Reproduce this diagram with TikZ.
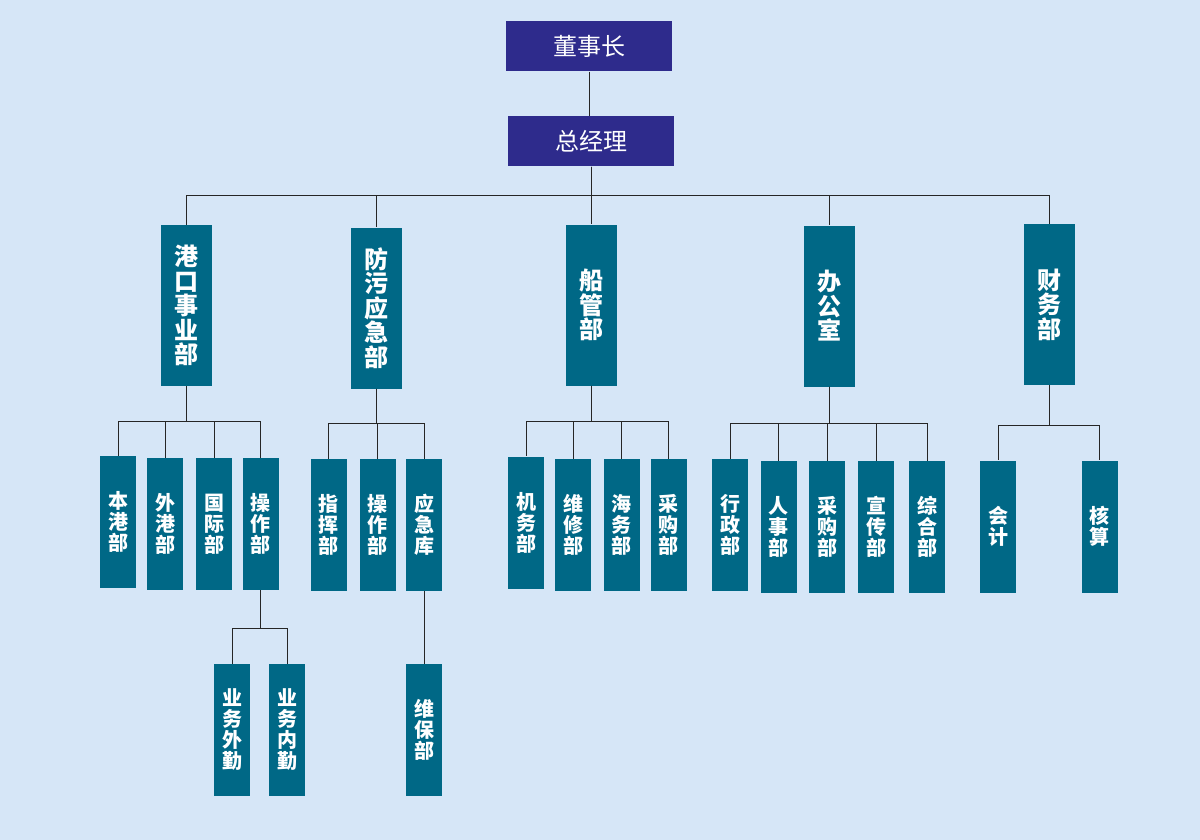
\documentclass[tikz,border=0pt]{standalone}
\usepackage{fontspec}
\newfontfamily\cjk{Noto Sans CJK SC}
\usetikzlibrary{positioning}
\definecolor{bgblue}{RGB}{214,230,247}
\definecolor{headblue}{RGB}{46,43,140}
\definecolor{deptteal}{RGB}{0,104,134}

\begin{document}
\begin{tikzpicture}[x=1pt, y=-1pt,
    every node/.style={inner sep=0pt, text=white, align=center},
    headbox/.style={fill=headblue, minimum width=166pt, minimum height=50pt, font=\cjk\fontsize{24}{24}\selectfont},
    deptbox/.style={fill=deptteal, minimum width=51pt, minimum height=161pt, font=\cjk\bfseries\fontsize{24}{24.5}\selectfont},
    subbox/.style={fill=deptteal, minimum width=36pt, minimum height=132pt, font=\cjk\bfseries\fontsize{20}{21}\selectfont},
    link/.style={draw=black!85, line width=1pt}]
    \fill[bgblue] (0,0) rectangle (1200,840);
    % top
    \node[headbox] (dsz) at (589,46.5) {董事长};
    \node[headbox] (zjl) at (591,141.5) {总经理};
    % departments
    \node[deptbox] (gk) at (186.5,305.5) {港\\口\\事\\业\\部};
    \node[deptbox] (fw) at (376.5,308) {防\\污\\应\\急\\部};
    \node[deptbox] (cg) at (591.5,305) {船\\管\\部};
    \node[deptbox] (bgs) at (829,306) {办\\公\\室};
    \node[deptbox] (cw) at (1049,304.5) {财\\务\\部};
    % sub departments
    \node[subbox] (bgb) at (118,522) {本\\港\\部};
    \node[subbox] (wgb) at (165,524) {外\\港\\部};
    \node[subbox] (gjb) at (214,524) {国\\际\\部};
    \node[subbox] (czb) at (260.5,524) {操\\作\\部};
    \node[subbox] (ywwq) at (232,730) {业\\务\\外\\勤};
    \node[subbox] (ywnq) at (287,730) {业\\务\\内\\勤};
    \node[subbox] (zhib) at (328.5,525) {指\\挥\\部};
    \node[subbox] (czbb) at (377.5,525) {操\\作\\部};
    \node[subbox] (yjk) at (424,525) {应\\急\\库};
    \node[subbox] (wbb) at (424,730) {维\\保\\部};
    \node[subbox] (jwb) at (526,522.5) {机\\务\\部};
    \node[subbox] (wxb) at (573,525) {维\\修\\部};
    \node[subbox] (hwb) at (621.5,525) {海\\务\\部};
    \node[subbox] (cgb) at (668.5,525) {采\\购\\部};
    \node[subbox] (xzb) at (730,525) {行\\政\\部};
    \node[subbox] (rsb) at (778.5,527) {人\\事\\部};
    \node[subbox] (cgbb) at (827,527) {采\\购\\部};
    \node[subbox] (xcb) at (876,527) {宣\\传\\部};
    \node[subbox] (zhb) at (927,527) {综\\合\\部};
    \node[subbox] (kj) at (998,526.5) {会\\计};
    \node[subbox] (hs) at (1099.5,526.5) {核\\算};
    % connectors
    \draw[link] (dsz.south) -- (dsz.south |- zjl.north);
    \foreach \d in {gk,fw,cg,bgs,cw}
        \draw[link] (zjl.south) -- ++(0,29) -| (\d.north);
    \foreach \s in {bgb,wgb,gjb,czb}
        \draw[link] (gk.south) -- ++(0,35) -| (\s.north);
    \foreach \s in {ywwq,ywnq}
        \draw[link] (czb.south) -- ++(0,38) -| (\s.north);
    \foreach \s in {zhib,czbb,yjk}
        \draw[link] (fw.south) -- ++(0,35) -| (\s.north);
    \draw[link] (yjk) -- (wbb);
    \foreach \s in {jwb,wxb,hwb,cgb}
        \draw[link] (cg.south) -- ++(0,36) -| (\s.north);
    \foreach \s in {xzb,rsb,cgbb,xcb,zhb}
        \draw[link] (bgs.south) -- ++(0,37) -| (\s.north);
    \foreach \s in {kj,hs}
        \draw[link] (cw.south) -- ++(0,40) -| (\s.north);
\end{tikzpicture}
\end{document}
